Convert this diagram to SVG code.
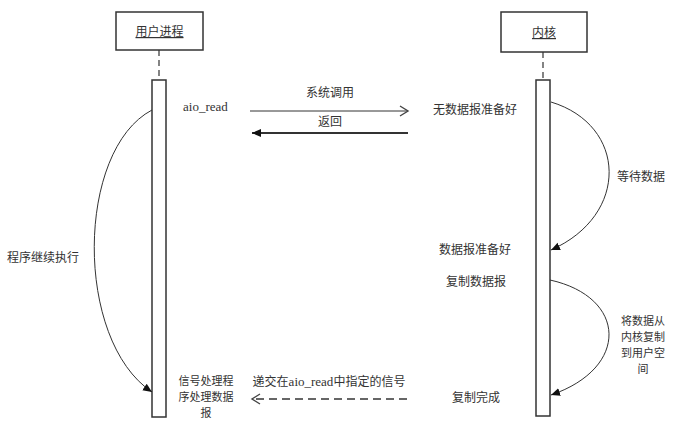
<svg xmlns="http://www.w3.org/2000/svg" width="700" height="436" viewBox="0 0 700 436">
<defs>
<marker id="solid" markerWidth="10" markerHeight="10" refX="9" refY="5" orient="auto" markerUnits="userSpaceOnUse">
<path d="M0,1 L9,5 L0,9 Z" fill="#111"/>
</marker>
<marker id="open" markerWidth="12" markerHeight="12" refX="10" refY="6" orient="auto" markerUnits="userSpaceOnUse">
<path d="M2,1 L10,6 L2,11" fill="none" stroke="#444" stroke-width="1.4"/>
</marker>
</defs>
<style>
.t{font-family:"Noto Sans CJK SC","Liberation Serif",serif;font-size:12px;fill:#333;}
.s{font-family:"Noto Sans CJK SC","Liberation Serif",serif;font-size:11px;fill:#333;}
.e{font-family:"Liberation Serif","Noto Sans CJK SC",serif;font-size:13px;fill:#333;}
.box{fill:#fff;stroke:#333;stroke-width:1.5;}
.bar{fill:#fff;stroke:#333;stroke-width:1.5;}
.life{stroke:#333;stroke-width:1.2;stroke-dasharray:6,4;}
.c{fill:none;stroke:#333;stroke-width:1;}
</style>
<rect width="700" height="436" fill="#fff"/>
<g id="user">
<rect class="box" x="116" y="12" width="87" height="38"/>
<text class="t" x="159.5" y="36" text-anchor="middle" text-decoration="underline">用户进程</text>
<line class="life" x1="159" y1="50" x2="159" y2="80"/>
<rect class="bar" x="152" y="80" width="14" height="337"/>
</g>
<g id="kernel">
<rect class="box" x="501" y="12" width="86" height="40"/>
<text class="t" x="544" y="37" text-anchor="middle" text-decoration="underline">内核</text>
<line class="life" x1="543" y1="52" x2="543" y2="80"/>
<rect class="bar" x="536" y="80" width="14" height="336"/>
</g>
<g id="connectors">
<line class="c" x1="250" y1="111" x2="408" y2="111" stroke="#444" marker-end="url(#open)"/>
<line x1="408" y1="133" x2="252" y2="133" stroke="#333" stroke-width="1.8" marker-end="url(#solid)"/>
<line x1="407" y1="399" x2="252" y2="399" stroke="#666" stroke-width="2" stroke-dasharray="8,5" marker-end="url(#open)"/>
<path class="c" d="M152,110 C76,150 74,340 152,392" marker-end="url(#solid)"/>
<path class="c" d="M551,102 C627,125 630,215 551,250" marker-end="url(#solid)"/>
<path class="c" d="M550,280 C627,297 630,368 551,395" marker-end="url(#solid)"/>
</g>
<g id="labels">
<text class="e" x="183" y="111">aio_read</text>
<text class="t" x="330" y="97" text-anchor="middle">系统调用</text>
<text class="t" x="330" y="126" text-anchor="middle">返回</text>
<text class="t" x="475" y="114" text-anchor="middle">无数据报准备好</text>
<text class="t" x="641" y="181" text-anchor="middle">等待数据</text>
<text class="t" x="43" y="262" text-anchor="middle">程序继续执行</text>
<text class="t" x="475" y="254" text-anchor="middle">数据报准备好</text>
<text class="t" x="476" y="286" text-anchor="middle">复制数据报</text>
<text class="s" x="643" y="325" text-anchor="middle">将数据从</text>
<text class="s" x="643" y="341" text-anchor="middle">内核复制</text>
<text class="s" x="643" y="357" text-anchor="middle">到用户空</text>
<text class="s" x="643" y="373" text-anchor="middle">间</text>
<text class="t" x="476" y="402" text-anchor="middle">复制完成</text>
<text class="s" x="206" y="385" text-anchor="middle">信号处理程</text>
<text class="s" x="206" y="401" text-anchor="middle">序处理数据</text>
<text class="s" x="206" y="417" text-anchor="middle">报</text>
<text x="329" y="386" text-anchor="middle"><tspan class="t">递交在</tspan><tspan class="e">aio_read</tspan><tspan class="t">中指定的信号</tspan></text>
</g>
</svg>
